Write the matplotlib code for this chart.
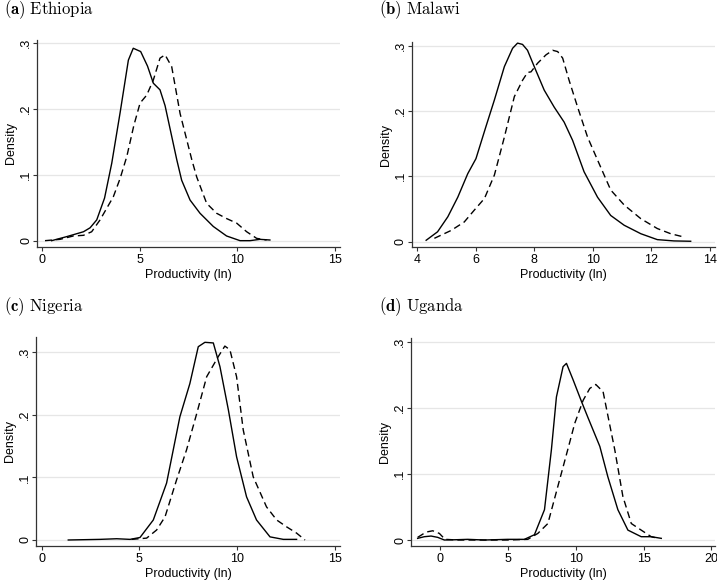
import numpy as np
import matplotlib.pyplot as plt

plt.rcParams['font.family'] = ['Liberation Sans', 'DejaVu Sans']
plt.rcParams['mathtext.fontset'] = 'cm'

# --- Datos (densidades kernel) ---
eth_solid_x = [0.49, 1.26, 2.12, 2.46, 2.80, 3.20, 3.57, 4.00, 4.42, 4.67, 5.05, 5.40, 5.70,
               6.04, 6.30, 6.90, 7.15, 7.58, 8.09, 8.77, 9.45, 10.14, 10.65, 11.16, 11.67]
eth_solid_y = [0.0005, 0.0066, 0.014, 0.020, 0.032, 0.065, 0.118, 0.195, 0.274, 0.292, 0.287,
               0.265, 0.239, 0.229, 0.205, 0.123, 0.092, 0.062, 0.042, 0.022, 0.0076,
               0.0005, 0.0005, 0.0025, 0.0015]
eth_dash_x = [0.15, 0.92, 1.60, 2.12, 2.54, 2.97, 3.65, 4.00, 4.34, 4.70, 5.02, 5.36, 5.70,
              6.04, 6.30, 6.64, 7.07, 7.67, 7.92, 8.43, 8.94, 9.45, 9.97, 10.48, 10.99, 11.50]
eth_dash_y = [0.0005, 0.0025, 0.0076, 0.0086, 0.014, 0.032, 0.067, 0.095, 0.128, 0.175, 0.209,
              0.221, 0.244, 0.277, 0.282, 0.264, 0.193, 0.123, 0.097, 0.057, 0.042, 0.034,
              0.027, 0.014, 0.004, 0.0015]

mwi_solid_x = [4.31, 4.70, 5.05, 5.39, 5.73, 6.01, 6.35, 6.64, 6.98, 7.26, 7.43, 7.60, 7.77,
               8.00, 8.34, 8.68, 9.02, 9.31, 9.70, 10.16, 10.61, 11.07, 11.64, 12.20, 12.77, 13.34]
mwi_solid_y = [0.002, 0.015, 0.038, 0.068, 0.104, 0.127, 0.176, 0.217, 0.268, 0.296, 0.304,
               0.302, 0.293, 0.268, 0.232, 0.206, 0.183, 0.155, 0.107, 0.068, 0.040, 0.025,
               0.012, 0.003, 0.001, 0.0005]
mwi_dash_x = [4.59, 5.16, 5.61, 5.95, 6.30, 6.64, 6.98, 7.32, 7.60, 7.77, 7.89, 8.11, 8.40,
              8.63, 8.80, 8.97, 9.19, 9.48, 9.82, 10.16, 10.61, 11.07, 11.64, 12.20, 12.66, 13.11]
mwi_dash_y = [0.005, 0.017, 0.030, 0.048, 0.066, 0.102, 0.160, 0.222, 0.247, 0.259, 0.260,
              0.273, 0.286, 0.293, 0.291, 0.281, 0.247, 0.206, 0.160, 0.125, 0.079, 0.056,
              0.035, 0.020, 0.012, 0.007]

nga_solid_x = [1.36, 2.98, 3.84, 4.52, 5.03, 5.71, 6.39, 7.07, 7.58, 8.01, 8.35, 8.78, 9.12,
               9.55, 9.97, 10.48, 10.99, 11.68, 12.36, 13.04]
nga_solid_y = [0.0, 0.001, 0.002, 0.001, 0.004, 0.032, 0.091, 0.197, 0.250, 0.309, 0.316,
               0.315, 0.277, 0.208, 0.133, 0.069, 0.032, 0.005, 0.001, 0.001]
nga_dash_x = [4.60, 5.37, 5.88, 6.31, 6.90, 7.41, 7.93, 8.44, 9.03, 9.37, 9.63, 9.97, 10.31,
              10.82, 11.50, 12.02, 12.53, 13.04, 13.47]
nga_dash_y = [0.001, 0.003, 0.016, 0.037, 0.096, 0.144, 0.202, 0.261, 0.293, 0.310, 0.304,
              0.261, 0.176, 0.101, 0.053, 0.032, 0.021, 0.011, 0.0]

uga_solid_x = [-1.65, -1.16, -0.66, -0.17, 0.32, 1.30, 2.04, 3.27, 4.99, 6.22, 6.96, 7.70,
               8.21, 8.58, 9.07, 9.32, 9.81, 10.43, 10.92, 11.78, 12.37, 13.11, 13.85, 14.83,
               15.57, 16.31]
uga_solid_y = [0.0025, 0.005, 0.006, 0.004, 0.0, 0.0005, 0.001, 0.0, 0.001, 0.001, 0.008,
               0.046, 0.137, 0.217, 0.263, 0.268, 0.243, 0.210, 0.185, 0.142, 0.096, 0.046,
               0.015, 0.005, 0.005, 0.0025]
uga_dash_x = [-1.65, -1.03, -0.54, -0.05, 0.37, 1.30, 4.99, 6.47, 7.21, 7.95, 8.68, 9.44,
              9.93, 10.55, 11.04, 11.48, 12.02, 12.39, 12.88, 13.48, 14.10, 14.83, 15.57, 16.06]
uga_dash_y = [0.004, 0.012, 0.014, 0.010, 0.001, 0.0, 0.0, 0.001, 0.010, 0.025, 0.081, 0.139,
              0.177, 0.212, 0.230, 0.236, 0.225, 0.187, 0.137, 0.066, 0.025, 0.015, 0.005, 0.0025]

y_ticks = [0, 0.1, 0.2, 0.3]
y_labels = ['0', '.1', '.2', '.3']

paneles = [
    # titulo, (solido), (discontinuo), xticks, xlim, ylim,
    # posicion en pixeles (izq, der, abajo, arriba), posicion del titulo (x, y)
    (r'$\mathbf{(a)}\ \mathrm{Ethiopia}$', (eth_solid_x, eth_solid_y), (eth_dash_x, eth_dash_y),
     [0, 5, 10, 15], (-0.26, 15.26), (-0.0091, 0.3045), (37, 340, 247, 40), (4, 10)),
    (r'$\mathbf{(b)}\ \mathrm{Malawi}$', (mwi_solid_x, mwi_solid_y), (mwi_dash_x, mwi_dash_y),
     [4, 6, 8, 10, 12, 14], (3.81, 14.17), (-0.0083, 0.3057), (411.5, 715, 247, 42), (379, 10)),
    (r'$\mathbf{(c)}\ \mathrm{Nigeria}$', (nga_solid_x, nga_solid_y), (nga_dash_x, nga_dash_y),
     [0, 5, 10, 15], (-0.29, 15.26), (-0.0096, 0.3245), (36, 340, 546, 337), (4, 307)),
    (r'$\mathbf{(d)}\ \mathrm{Uganda}$', (uga_solid_x, uga_solid_y), (uga_dash_x, uga_dash_y),
     [0, 5, 10, 15, 20], (-2.14, 20.27), (-0.0091, 0.3065), (411, 715, 546, 338), (379, 307)),
]

W, H = 717, 580
fig = plt.figure(figsize=(W / 100, H / 100), dpi=100)
fig.patch.set_facecolor('white')

for titulo, sol, das, xt, xl, yl, (l, r, b, t), (tx, ty) in paneles:
    ax = fig.add_axes([l / W, 1 - b / H, (r - l) / W, (b - t) / H])
    ax.plot(sol[0], sol[1], color='black', linewidth=1.0)
    ax.plot(das[0], das[1], color='black', linewidth=1.0, linestyle=(0, (5, 3)))
    ax.set_xlim(*xl)
    ax.set_ylim(*yl)
    ax.set_xticks(xt)
    ax.set_xticklabels([str(v) for v in xt])
    ax.set_yticks(y_ticks)
    ax.set_yticklabels(y_labels, rotation=90, va='center')
    ax.grid(True, axis='y', color='#e6e6e6', linewidth=0.9)
    ax.set_axisbelow(True)
    for s in ['top', 'right']:
        ax.spines[s].set_visible(False)
    for s in ['left', 'bottom']:
        ax.spines[s].set_color('#333333')
        ax.spines[s].set_linewidth(0.9)
    ax.tick_params(axis='x', direction='out', length=3, width=0.8, color='#333333',
                   labelsize=9, pad=2)
    ax.tick_params(axis='y', direction='out', length=3, width=0.8, color='#333333',
                   labelsize=9, pad=0.5)
    ax.set_xlabel('Productivity (ln)', fontsize=9, labelpad=2)
    ax.set_ylabel('Density', fontsize=9, labelpad=2)
    fig.text(tx / W, 1 - ty / H, titulo, fontsize=12, ha='left', va='center')

fig.savefig('out.png', dpi=100)
